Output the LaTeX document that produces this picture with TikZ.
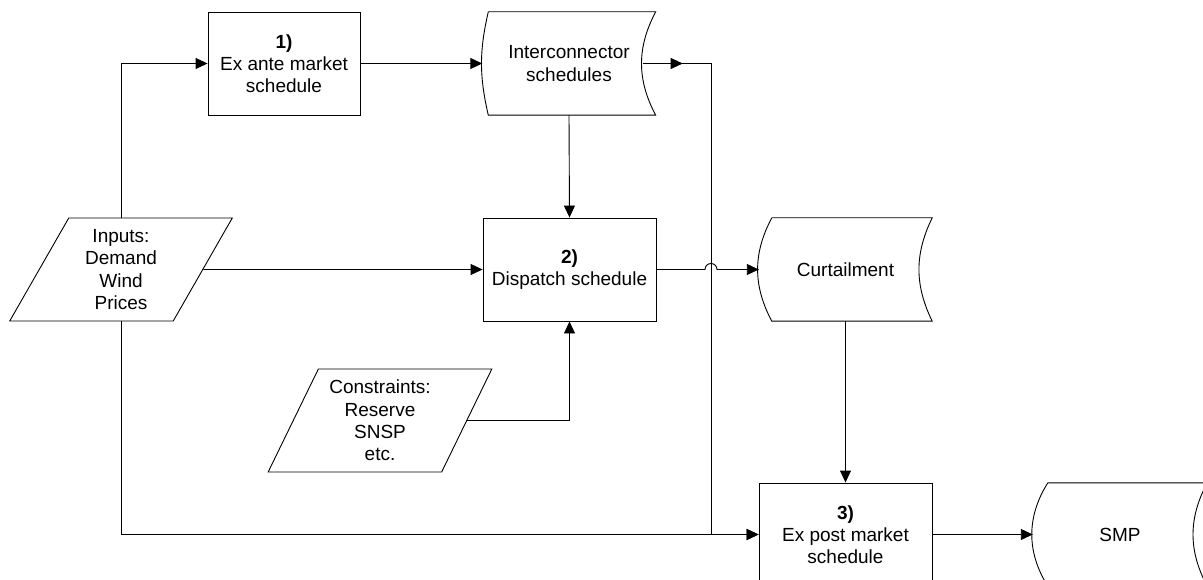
\documentclass[tikz,border=0pt]{standalone}
\usepackage{fontspec}
\setmainfont{Liberation Sans}
\usetikzlibrary{arrows.meta,positioning,shapes.geometric,decorations.markings}
\tikzset{
  block/.style    = {draw, line width=0.9pt, rectangle, minimum height=103pt,
                     minimum width=173pt, align=center, inner sep=2pt},
  store/.style    = {rectangle, minimum height=103pt, minimum width=173pt,
                     align=center, inner sep=0pt},
  datain/.style   = {draw, line width=0.9pt, trapezium, trapezium left angle=63,
                     trapezium right angle=117, trapezium stretches=true,
                     minimum height=103pt, minimum width=223pt, align=center, inner sep=1pt},
  sig/.style      = {-{Triangle[length=12pt,width=11pt]}, line width=0.9pt},
  midarrow/.style = {postaction=decorate, decoration={markings,
                     mark=at position #1 with {\arrow{Triangle[length=12pt,width=11pt]}}}},
}

\begin{document}
\begin{tikzpicture}[x=1pt,y=-1pt,font=\fontsize{19}{22.2}\selectfont]
\clip (0,0) rectangle (1203,580);
% process boxes
\node[block,minimum width=152pt] (exante) at (284,63.5) {\textbf{1)}\\Ex ante market\\schedule};
\node[block] (disp) at (569.5,269.5) {\textbf{2)}\\Dispatch schedule};
\node[block] (expost) at (845.5,534.5) {\textbf{3)}\\Ex post market\\schedule};
% stored data
\node[store] (ic) at (569,63.5) {Interconnector\\schedules};
\node[store] (curt) at (845.5,269.5) {Curtailment};
\node[store,minimum width=174pt] (smp) at (1120,534.5) {SMP};
\foreach \n/\l/\a/\b in {ic/6/13/28, curt/13/28/26, smp/15/32/28}
  \draw[line width=0.9pt] ([xshift=\l pt]\n.north west) -- (\n.north east)
    to[bend right=\b] (\n.south east) -- ([xshift=\l pt]\n.south west)
    to[bend left=\a] ([xshift=\l pt]\n.north west);
% inputs
\node[datain] (inp) at (121,269.5) {Inputs:\\Demand\\Wind\\Prices};
\node[datain,minimum width=224pt] (cons) at (380,420.5) {Constraints:\\Reserve\\SNSP\\etc.};
\coordinate (bus) at (711,63.5);

\draw[sig] (inp.north) |- (exante.west);
\draw[sig] (exante.east) -- (ic.west);
\draw[sig] (ic.south) -- (disp.north);
\draw[sig] (inp.east) -- (disp.west);
\draw[sig] (cons.east) -| (disp.south);
\draw[sig] (disp.east) -- ([xshift=-6pt]bus |- disp.east)
  arc[start angle=180,end angle=0,radius=6pt] -- (curt.west);
\draw[sig,midarrow=40pt] ([xshift=-13pt]ic.east) -- (bus) |- (expost.west);
\draw[sig] (inp.south) |- (expost.west);
\draw[sig] (curt.south) -- (expost.north);
\draw[sig] (expost.east) -- (smp.west);
\end{tikzpicture}
\end{document}
